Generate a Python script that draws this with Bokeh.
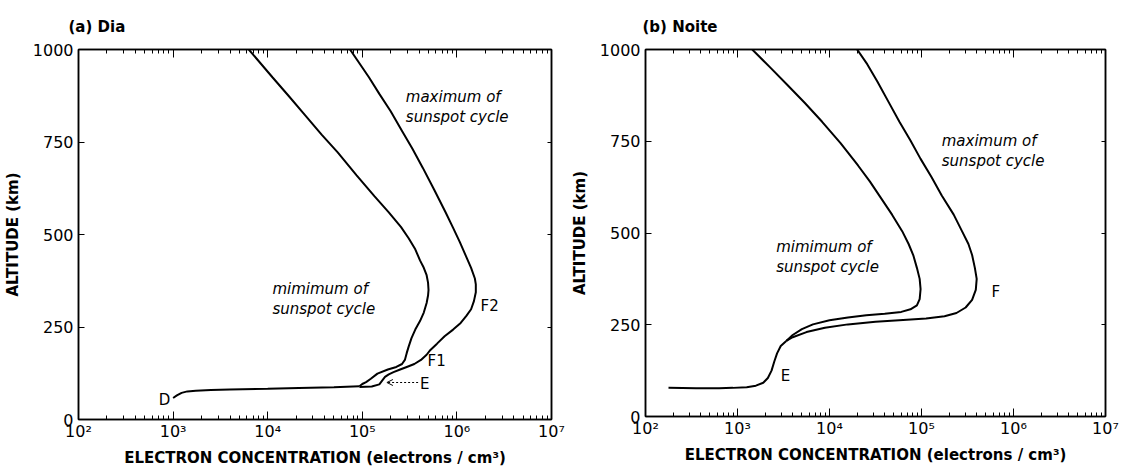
from bokeh.plotting import figure
from bokeh.models import (Range1d, LogAxis, LinearAxis, FixedTicker, Label, Arrow,
                          OpenHead)
from bokeh.layouts import row
from bokeh.embed import file_html
from bokeh.resources import INLINE

# ---------------- data ----------------
x_major = [1e2, 1e3, 1e4, 1e5, 1e6, 1e7]
x_labels = ["10²", "10³", "10⁴", "10⁵", "10⁶", "10⁷"]
y_major = [0, 250, 500, 750, 1000]

# (a) Dia - D region (shared lower part), log10 of concentration
dia_low_log = [3.0, 3.04, 3.09, 3.15, 3.24, 3.4, 3.6, 4.0, 4.33, 4.7, 4.97]
dia_low_alt = [58, 65, 72, 76, 78, 80, 81, 83, 85, 87, 90]
# (a) Dia - minimum of sunspot cycle
dia_min_log = [4.97, 5.0, 5.04, 5.09, 5.16, 5.27, 5.36, 5.42, 5.45, 5.47, 5.49, 5.52,
               5.56, 5.61, 5.65, 5.68, 5.695, 5.70, 5.695, 5.68, 5.65, 5.61, 5.56, 5.49,
               5.41, 5.28, 5.13, 4.94, 4.74, 4.57, 4.39, 4.22, 4.05, 3.80]
dia_min_alt = [90, 96, 101, 110, 124, 135, 142, 150, 161, 180, 197, 220, 243, 266, 289,
               315, 335, 350, 370, 390, 410, 430, 460, 490, 520, 560, 603, 660, 722, 770,
               824, 875, 925, 1000]
# (a) Dia - maximum of sunspot cycle
dia_max_log = [4.97, 5.10, 5.18, 5.21, 5.24, 5.28, 5.33, 5.40, 5.47, 5.55, 5.62, 5.68,
               5.72, 5.79, 5.87, 5.96, 6.04, 6.10, 6.15, 6.18, 6.20, 6.20, 6.19, 6.15,
               6.09, 6.03, 5.96, 5.88, 5.76, 5.64, 5.53, 5.42, 5.30, 5.18, 5.07, 4.87]
dia_max_alt = [88, 89, 95, 105, 115, 122, 128, 135, 142, 150, 161, 175, 188, 205, 225,
               243, 261, 280, 298, 320, 344, 365, 381, 410, 445, 480, 518, 560, 621, 680,
               732, 780, 833, 880, 925, 1000]

# (b) Noite - shared lower part
noite_low_log = [2.25, 2.55, 2.8, 2.95, 3.1, 3.2, 3.28, 3.33, 3.37, 3.40, 3.43, 3.47,
                 3.53]
noite_low_alt = [78, 77, 77, 78, 80, 84, 92, 105, 125, 150, 172, 192, 206]
# (b) Noite - minimum of sunspot cycle
noite_min_log = [3.53, 3.6, 3.7, 3.82, 4.0, 4.2, 4.4, 4.6, 4.78, 4.88, 4.95, 4.98, 4.99,
                 4.98, 4.95, 4.91, 4.86, 4.79, 4.68, 4.56, 4.44, 4.31, 4.12, 3.92, 3.73,
                 3.54, 3.36, 3.16]
noite_min_alt = [206, 222, 238, 251, 262, 270, 276, 280, 285, 292, 303, 320, 347, 375,
                 405, 440, 470, 505, 550, 595, 640, 684, 745, 803, 855, 904, 950, 1000]
# (b) Noite - maximum of sunspot cycle
noite_max_log = [3.53, 3.6, 3.75, 3.95, 4.2, 4.5, 4.8, 5.05, 5.25, 5.38, 5.48, 5.55,
                 5.59, 5.60, 5.58, 5.55, 5.51, 5.44, 5.35, 5.22, 5.11, 4.99, 4.88, 4.76,
                 4.64, 4.52, 4.41, 4.30]
noite_max_alt = [206, 216, 230, 242, 251, 258, 263, 267, 273, 282, 297, 318, 345, 375,
                 405, 440, 470, 505, 550, 602, 652, 702, 752, 803, 858, 913, 960, 1000]

# minor ticks 2..9 in every decade
x_minor = [m * 10 ** e for e in range(2, 7) for m in range(2, 10)]

FONT = "DejaVu Sans"
XLABEL = "ELECTRON CONCENTRATION (electrons / cm³)"
YLABEL = "ALTITUDE (km)"


def conc(logs):
    return [10 ** v for v in logs]


def style_axis(ax):
    ax.axis_line_color = "black"
    ax.axis_line_width = 1.5
    ax.major_tick_line_color = "black"
    ax.minor_tick_line_color = "black"
    ax.major_tick_in = 8
    ax.major_tick_out = 0
    ax.minor_tick_in = 4
    ax.minor_tick_out = 0
    ax.major_label_text_font = FONT
    ax.major_label_text_font_size = "16px"
    ax.major_label_text_color = "black"
    ax.axis_label_text_font = FONT
    ax.axis_label_text_font_style = "bold"
    ax.axis_label_text_font_size = "15px"
    ax.axis_label_text_color = "black"


def make_panel(title, title_off, fw, fh, left, right, top, bottom):
    p = figure(x_axis_type="log", frame_width=fw, frame_height=fh,
               x_range=Range1d(1e2, 1e7), y_range=Range1d(0, 1000),
               output_backend="svg", toolbar_location=None,
               min_border_left=left, min_border_right=right,
               min_border_top=top, min_border_bottom=bottom)
    p.title.text = title
    p.title.text_font = FONT
    p.title.text_font_size = "15px"
    p.title.text_font_style = "bold"
    p.title.text_color = "black"
    p.title.align = "left"
    p.title.offset = title_off
    p.title.standoff = 28
    p.xgrid.visible = False
    p.ygrid.visible = False
    p.outline_line_color = "black"
    p.outline_line_width = 1.5
    p.background_fill_color = "white"
    p.border_fill_color = "white"

    xt = FixedTicker(ticks=x_major, minor_ticks=x_minor)
    yt = FixedTicker(ticks=y_major, minor_ticks=[])

    xa = p.xaxis[0]
    xa.ticker = xt
    xa.major_label_overrides = {v: s for v, s in zip(x_major, x_labels)}
    xa.axis_label = XLABEL
    style_axis(xa)
    xa.major_label_standoff = 2
    xa.axis_label_standoff = 5

    ya = p.yaxis[0]
    ya.ticker = yt
    ya.axis_label = YLABEL
    style_axis(ya)
    ya.major_tick_in = 6
    ya.major_label_standoff = 5
    ya.axis_label_standoff = 8
    ya.minor_tick_in = 0

    top_ax = LogAxis(ticker=xt)
    style_axis(top_ax)
    top_ax.major_label_overrides = {v: "" for v in x_major}
    top_ax.major_label_standoff = 0
    p.add_layout(top_ax, "above")
    right_ax = LinearAxis(ticker=yt)
    style_axis(right_ax)
    right_ax.major_label_overrides = {v: "" for v in y_major}
    right_ax.major_label_standoff = 0
    right_ax.major_tick_in = 4
    p.add_layout(right_ax, "right")
    return p


def note(p, x, y, text, style="normal", size="15px", align="left"):
    p.add_layout(Label(x=x, y=y, text=text, text_font=FONT, text_font_size=size,
                       text_font_style=style, text_align=align,
                       text_baseline="middle", text_color="black"))


# ---------------- panel (a) ----------------
pa = make_panel("(a)  Dia", -10, 473, 370, 76, 16, 49, 50)
pa.line(conc(dia_low_log), dia_low_alt, line_color="black", line_width=2)
pa.line(conc(dia_min_log), dia_min_alt, line_color="black", line_width=2)
pa.line(conc(dia_max_log), dia_max_alt, line_color="black", line_width=2)
note(pa, 10 ** 5.46, 872, "maximum of", style="italic")
note(pa, 10 ** 5.46, 818, "sunspot cycle", style="italic")
note(pa, 10 ** 4.05, 352, "mimimum of", style="italic")
note(pa, 10 ** 4.05, 299, "sunspot cycle", style="italic")
note(pa, 10 ** 6.25, 306, "F2")
note(pa, 10 ** 5.69, 158, "F1")
note(pa, 10 ** 5.61, 96, "E")
note(pa, 10 ** 2.97, 53, "D", align="right")
pa.add_layout(Arrow(end=OpenHead(size=6, line_width=1, line_color="black"),
                    x_start=10 ** 5.59, y_start=100, x_end=10 ** 5.26, y_end=100,
                    line_dash="2 2", line_width=1, line_color="black"))

# ---------------- panel (b) ----------------
pb = make_panel("(b)  Noite", -3, 460, 367, 76, 24, 49, 53)
pb.line(conc(noite_low_log), noite_low_alt, line_color="black", line_width=2)
pb.line(conc(noite_min_log), noite_min_alt, line_color="black", line_width=2)
pb.line(conc(noite_max_log), noite_max_alt, line_color="black", line_width=2)
note(pb, 10 ** 5.22, 752, "maximum of", style="italic")
note(pb, 10 ** 5.22, 697, "sunspot cycle", style="italic")
note(pb, 10 ** 3.42, 462, "mimimum of", style="italic")
note(pb, 10 ** 3.42, 408, "sunspot cycle", style="italic")
note(pb, 10 ** 5.76, 338, "F")
note(pb, 10 ** 3.47, 110, "E")

layout = row(pa, pb)
open("out.html", "w").write(file_html(layout, INLINE))
